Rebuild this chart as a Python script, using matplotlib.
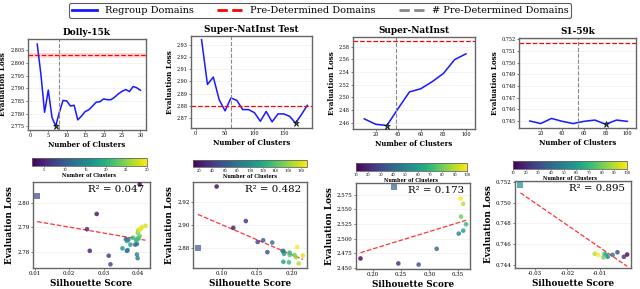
import numpy as np
import matplotlib
matplotlib.use('Agg')
import matplotlib.pyplot as plt
from matplotlib.lines import Line2D

plt.rcParams['font.family'] = ['DejaVu Serif']

# ---------------- data ----------------
titles = ['Dolly-15k', 'Super-NatInst Test', 'Super-NatInst', 'S1-59k']

dolly_k = list(range(2, 31))
dolly_loss = [2.8075, 2.7955, 2.7805, 2.7893, 2.7785, 2.7750, 2.7805, 2.7852, 2.7850,
              2.7830, 2.7833, 2.7775, 2.7790, 2.7808, 2.7815, 2.7830, 2.7845, 2.7847,
              2.7858, 2.7855, 2.7855, 2.7865, 2.7878, 2.7888, 2.7895, 2.7887, 2.7907,
              2.7902, 2.7892]
dolly_sil = [0.0405, 0.0280, 0.0260, 0.0252, 0.0315, 0.0320, 0.0368, 0.0365, 0.0372,
             0.0392, 0.0397, 0.0399, 0.0397, 0.0370, 0.0355, 0.0378, 0.0368, 0.0395,
             0.0385, 0.0402, 0.0398, 0.0405, 0.0400, 0.0402, 0.0408, 0.0400, 0.0422,
             0.0412, 0.0405]
dolly_pre = {'loss': 2.803, 'band': 0.001, 'k': 8, 'sil': 0.0107, 'r2': '0.047'}

snit_k = list(range(10, 200, 10))
snit_loss = [2.934, 2.8975, 2.9035, 2.885, 2.876, 2.8865, 2.8845, 2.877, 2.877, 2.8745,
             2.8675, 2.8755, 2.867, 2.8735, 2.8735, 2.8715, 2.866, 2.873, 2.8805]
snit_sil = [0.092, 0.116, 0.134, 0.151, 0.165, 0.159, 0.172, 0.187, 0.188, 0.189,
            0.188, 0.197, 0.196, 0.197, 0.204, 0.206, 0.210, 0.216, 0.208]
snit_pre = {'loss': 2.880, 'band': 0.0, 'k': 60, 'sil': 0.065, 'r2': '0.482'}

sni_k = list(range(10, 110, 10))
sni_loss = [2.466, 2.4575, 2.4555, 2.4825, 2.5085, 2.5135, 2.5245, 2.5375, 2.5595, 2.5685]
sni_sil = [0.178, 0.245, 0.281, 0.313, 0.352, 0.360, 0.365, 0.356, 0.360, 0.355]
sni_pre = {'loss': 2.589, 'band': 0.0, 'k': 38, 'sil': 0.238, 'r2': '0.173'}

s1_k = list(range(10, 110, 10))
s1_loss = [0.74500, 0.74478, 0.74522, 0.74497, 0.74478, 0.74497, 0.74508, 0.74472,
           0.74508, 0.74497]
s1_sil = [-0.0015, -0.0025, -0.0045, -0.0060, -0.0075, -0.0080, -0.0085, -0.0088,
          -0.0115, -0.0105]
s1_pre = {'loss': 0.7517, 'band': 0.0, 'k': 54, 'sil': -0.0345, 'r2': '0.895'}

ks = [dolly_k, snit_k, sni_k, s1_k]
losses = [dolly_loss, snit_loss, sni_loss, s1_loss]
sils = [dolly_sil, snit_sil, sni_sil, s1_sil]
pres = [dolly_pre, snit_pre, sni_pre, s1_pre]

top_xticks = [[0, 5, 10, 15, 20, 25, 30], [0, 50, 100, 150, 200],
              [20, 40, 60, 80, 100], [20, 40, 60, 80, 100]]
top_xlims = [(-0.5, 31.5), (-8, 198), (0, 108), (0, 108)]
top_yticks = [[2.775, 2.780, 2.785, 2.790, 2.795, 2.800, 2.805],
              [2.87, 2.88, 2.89, 2.90, 2.91, 2.92, 2.93],
              [2.46, 2.48, 2.50, 2.52, 2.54, 2.56, 2.58],
              [0.745, 0.746, 0.747, 0.748, 0.749, 0.750, 0.751, 0.752]]
top_yfmt = ['%.3f', '%.2f', '%.2f', '%.3f']
top_ylims = [(2.7735, 2.8095), (2.862, 2.937), (2.450, 2.595), (0.7444, 0.7521)]

bot_xticks = [[0.01, 0.02, 0.03, 0.04], [0.10, 0.15, 0.20],
              [0.20, 0.25, 0.30, 0.35], [-0.03, -0.02, -0.01]]
bot_xfmt = ['%.2f', '%.2f', '%.2f', '%.2f']
bot_xlims = [(0.0095, 0.0435), (0.058, 0.222), (0.170, 0.372), (-0.0362, -0.0003)]
bot_yticks = [[2.78, 2.79, 2.80], [2.88, 2.90, 2.92],
              [2.450, 2.475, 2.500, 2.525, 2.550, 2.575],
              [0.744, 0.746, 0.748, 0.750, 0.752]]
bot_yfmt = ['%.2f', '%.2f', '%.3f', '%.3f']
bot_ylims = [(2.7735, 2.8085), (2.862, 2.938), (2.448, 2.595), (0.7437, 0.7521)]
cbar_ticks = [[5, 10, 15, 20, 25, 30], list(range(20, 200, 20)),
              list(range(10, 110, 10)), list(range(10, 110, 10))]

# ---------------- layout (pixels) ----------------
W, H = 640, 289
top_boxes = [(28, 39, 146, 130), (191, 36, 312, 128), (353, 37, 475, 129), (519, 38, 636, 128)]
bot_boxes = [(33, 182, 150, 268), (193, 182, 307, 268), (356, 183, 470, 269), (515, 181, 631, 268)]
cb_boxes = [(32, 158, 147, 166), (193, 160, 307, 167), (356, 163, 467, 171), (513, 161, 627, 169)]


def rect(b):
    l, t, r, bt = b
    return [l / W, 1 - bt / H, (r - l) / W, (bt - t) / H]


fig = plt.figure(figsize=(6.4, 2.89), dpi=100)
spine_c = '#666666'


def style(ax, lab):
    for s in ax.spines.values():
        s.set_color(spine_c)
        s.set_linewidth(1.0)
    ax.tick_params(axis='both', labelsize=lab, length=1.5, width=0.5, pad=1, color='#444444')
    ax.grid(axis='y', color='#eeeeee', linewidth=0.5)
    ax.set_axisbelow(True)


for i in range(4):
    k = np.array(ks[i]); L = np.array(losses[i]); S = np.array(sils[i]); p = pres[i]
    # top row
    ax = fig.add_axes(rect(top_boxes[i]))
    style(ax, 3.5)
    span = top_ylims[i][1] - top_ylims[i][0]
    ax.fill_between(k, L - 0.004 * span, L + 0.004 * span,
                    color='#8888ff', alpha=0.25, linewidth=0)
    ax.plot(k, L, color='#1a1aff', lw=1.1)
    ax.axhline(p['loss'], color='red', ls='--', lw=0.9)
    if p['band'] > 0:
        ax.axhspan(p['loss'] - p['band'], p['loss'] + p['band'], color='red', alpha=0.15, lw=0)
    ax.axvline(p['k'], color='#888888', ls='--', lw=0.8)
    j = int(np.argmin(L))
    ax.plot(k[j], L[j], marker='*', ms=5, color='#1e5b3a', mec='black', mew=0.4, zorder=5)
    ax.set_xticks(top_xticks[i]); ax.set_xlim(*top_xlims[i])
    ax.set_yticks(top_yticks[i]); ax.set_ylim(*top_ylims[i])
    ax.set_yticklabels([top_yfmt[i] % v for v in top_yticks[i]])
    ax.set_title(titles[i], fontsize=6.4, fontweight='bold', pad=3)
    ax.set_xlabel('Number of Clusters', fontsize=5.0, fontweight='bold', labelpad=1.5)
    ax.set_ylabel('Evaluation Loss', fontsize=5.2, fontweight='bold', labelpad=2)

    # bottom row
    bx = fig.add_axes(rect(bot_boxes[i]))
    style(bx, 4.0)
    norm = plt.Normalize(k.min(), k.max())
    sc = bx.scatter(S, L, c=k, cmap='viridis', norm=norm, s=11, alpha=0.8, linewidths=0, zorder=3)
    bx.scatter([p['sil']], [p['loss']], c=[p['k']], cmap='viridis', norm=norm, marker='s',
               s=16, alpha=0.7, linewidths=0, zorder=3)
    xs = np.concatenate([S, [p['sil']]]); ys = np.concatenate([L, [p['loss']]])
    m, c0 = np.polyfit(xs, ys, 1)
    xx = np.linspace(xs.min(), xs.max(), 50)
    bx.plot(xx, m * xx + c0, color='red', ls='--', lw=0.9, alpha=0.8, zorder=2)
    bx.text(0.95, 0.96, 'R² = ' + p['r2'], transform=bx.transAxes, ha='right', va='top',
            fontsize=7.4)
    bx.set_xticks(bot_xticks[i]); bx.set_xlim(*bot_xlims[i])
    bx.set_xticklabels([bot_xfmt[i] % v for v in bot_xticks[i]])
    bx.set_yticks(bot_yticks[i]); bx.set_ylim(*bot_ylims[i])
    bx.set_yticklabels([bot_yfmt[i] % v for v in bot_yticks[i]])
    bx.set_xlabel('Silhouette Score', fontsize=6.3, fontweight='bold', labelpad=2)
    bx.set_ylabel('Evaluation Loss', fontsize=6.3, fontweight='bold', labelpad=2)

    cax = fig.add_axes(rect(cb_boxes[i]))
    cb = fig.colorbar(sc, cax=cax, orientation='horizontal')
    cb.solids.set_alpha(1)
    cb.set_ticks(cbar_ticks[i])
    cb.ax.tick_params(labelsize=2.6, length=1, width=0.4, pad=0.5)
    cb.outline.set_edgecolor(spine_c)
    cb.outline.set_linewidth(0.6)
    cb.set_label('Number of Clusters', fontsize=3.5, fontweight='bold', labelpad=0.5)

handles = [Line2D([0], [0], color='#1a1aff', lw=2),
           Line2D([0], [0], color='red', lw=2, ls='--'),
           Line2D([0], [0], color='#888888', lw=2, ls='--')]
labels = ['Regroup Domains', 'Pre-Determined Domains', '# Pre-Determined Domains']
leg = fig.legend(handles, labels, loc='upper center', bbox_to_anchor=(0.5, 1.005), ncol=3,
                 fontsize=7.0, frameon=True, fancybox=True, edgecolor='#333333',
                 handlelength=2.6, columnspacing=2.4, borderpad=0.3, handletextpad=0.8)
leg.get_frame().set_linewidth(0.8)

fig.savefig('out.png', dpi=100)
